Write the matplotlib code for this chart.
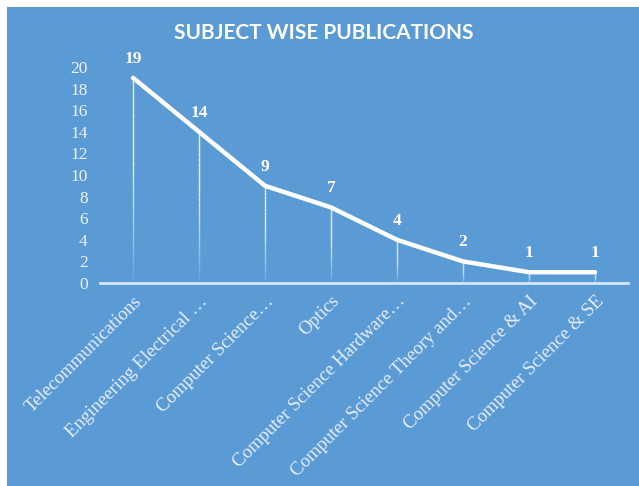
import matplotlib.pyplot as plt
import numpy as np
from matplotlib.collections import LineCollection

# data
subjects = ['Telecommunications', 'Engineering Electrical …', 'Computer Science…',
            'Optics', 'Computer Science Hardware…', 'Computer Science Theory and…',
            'Computer Science & AI', 'Computer Science & SE']
publications = [19, 14, 9, 7, 4, 2, 1, 1]
y_ticks = [0, 2, 4, 6, 8, 10, 12, 14, 16, 18, 20]

bg = '#5B9BD5'
serif = ['Liberation Serif', 'DejaVu Serif']

fig = plt.figure(figsize=(6.39, 4.86), dpi=100)
fig.patch.set_facecolor('white')

# blue panel behind everything
back = fig.add_axes([7 / 639, 0, 1 - 7 / 639, 1 - 7 / 486], zorder=-1)
back.set_facecolor(bg)
back.set_xticks([])
back.set_yticks([])
for s in back.spines.values():
    s.set_visible(False)

ax = fig.add_axes([100 / 639, 1 - 283 / 486, 528 / 639, 216 / 486])
ax.set_facecolor('none')
x = np.arange(len(subjects))

# drop lines, fading towards the baseline
segs, cols = [], []
n = 30
for xi, v in zip(x, publications):
    ys = np.linspace(0, v, n + 1)
    for k in range(n):
        segs.append([(xi, ys[k]), (xi, ys[k + 1])])
        a = 0.08 + 0.8 * min(1.0, (k / n) * 1.8)
        cols.append((1, 1, 1, a))
ax.add_collection(LineCollection(segs, colors=cols, linewidths=1.0, zorder=2))

ax.plot(x, publications, color='white', linewidth=3.2, solid_capstyle='round',
        solid_joinstyle='round', zorder=3, clip_on=False)

for xi, v in zip(x, publications):
    ax.annotate(str(v), (xi, v), xytext=(0, 8), textcoords='offset points',
                ha='center', va='bottom', color='white', fontsize=12.5,
                fontweight='bold', family=serif, annotation_clip=False)

ax.set_xlim(-0.5, len(subjects) - 0.5)
ax.set_ylim(0, 20)
ax.set_yticks(y_ticks)
ax.set_yticklabels([str(t) for t in y_ticks], family=serif, fontsize=12.5, color='#EEF3FA')
ax.tick_params(axis='y', length=0, pad=9)

ax.set_xticks(x)
ax.set_xticklabels(subjects, rotation=45, ha='right', rotation_mode='anchor',
                   family=serif, fontsize=13.5, color='#E6EEF8')
ax.tick_params(axis='x', length=0, pad=7)

for s in ['top', 'right', 'left']:
    ax.spines[s].set_visible(False)
ax.spines['bottom'].set_color('#D6E4F3')
ax.spines['bottom'].set_linewidth(2)

fig.text(324 / 639, 1 - 33 / 486, 'SUBJECT WISE PUBLICATIONS', ha='center', va='center',
         color='white', fontsize=15, fontweight='bold', family=['Lato', 'DejaVu Sans'])

fig.savefig('out.png', dpi=100, facecolor=fig.get_facecolor())
